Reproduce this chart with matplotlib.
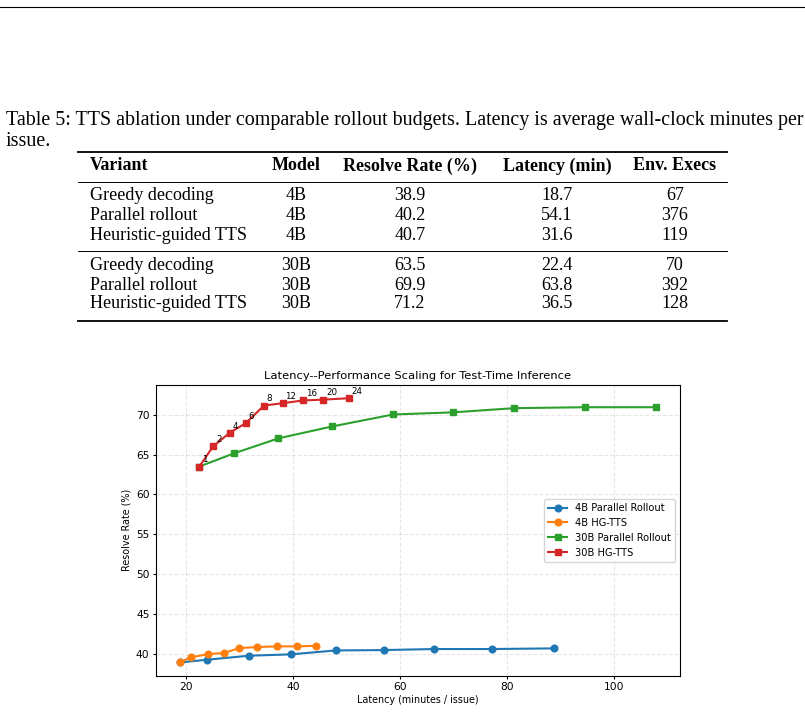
import matplotlib
matplotlib.use("Agg")
import matplotlib.pyplot as plt
from matplotlib.lines import Line2D

W, H = 805, 712

# table data
caption_1 = "Table 5: TTS ablation under comparable rollout budgets. Latency is average wall-clock minutes per"
caption_2 = "issue."
headers = ["Variant", "Model", "Resolve Rate (%)", "Latency (min)", "Env. Execs"]
rows = [
    ["Greedy decoding", "4B", "38.9", "18.7", "67"],
    ["Parallel rollout", "4B", "40.2", "54.1", "376"],
    ["Heuristic-guided TTS", "4B", "40.7", "31.6", "119"],
    ["Greedy decoding", "30B", "63.5", "22.4", "70"],
    ["Parallel rollout", "30B", "69.9", "63.8", "392"],
    ["Heuristic-guided TTS", "30B", "71.2", "36.5", "128"],
]

# chart data
lat_4b_par = [18.7, 23.9, 31.7, 39.5, 47.9, 56.9, 66.4, 77.2, 88.7]
res_4b_par = [38.9, 39.25, 39.75, 39.92, 40.41, 40.46, 40.59, 40.59, 40.67]
lat_4b_hg = [18.7, 20.8, 24.1, 27.0, 29.9, 33.2, 36.9, 40.7, 44.3]
res_4b_hg = [38.9, 39.54, 39.96, 40.09, 40.71, 40.84, 40.92, 40.92, 41.0]
lat_30b_par = [22.4, 28.9, 37.2, 47.3, 58.7, 69.8, 81.3, 94.6, 107.9]
res_30b_par = [63.5, 65.16, 67.04, 68.54, 70.04, 70.3, 70.83, 70.95, 70.95]
lat_30b_hg = [22.4, 25.0, 28.1, 31.1, 34.5, 38.0, 41.8, 45.6, 50.4]
res_30b_hg = [63.5, 66.04, 67.75, 68.95, 71.16, 71.45, 71.8, 71.9, 72.08]
budget_labels = ["1", "2", "4", "6", "8", "12", "16", "20", "24"]


def fx(x):
    return x / W


def fy(y):
    return 1 - y / H


fig = plt.figure(figsize=(W / 100, H / 100), dpi=100)

serif = "Liberation Serif"
fs = 13

# page rule at the top
fig.add_artist(Line2D([0, 1], [fy(7), fy(7)], color="black", lw=0.8))

# caption
fig.text(fx(6), fy(120), caption_1, family=serif, fontsize=14.4, va="center", ha="left")
fig.text(fx(6), fy(142), caption_2, family=serif, fontsize=14.4, va="center", ha="left")

# table rules
x0, x1 = fx(78), fx(727)
fig.add_artist(Line2D([x0, x1], [fy(152), fy(152)], color="black", lw=1.3))
fig.add_artist(Line2D([x0, x1], [fy(182), fy(182)], color="black", lw=0.7))
fig.add_artist(Line2D([x0, x1], [fy(251), fy(251)], color="black", lw=0.7))
fig.add_artist(Line2D([x0, x1], [fy(321), fy(321)], color="black", lw=1.3))

col_x = [90, 296, 410, 557, 675]
col_ha = ["left", "center", "center", "center", "center"]
for c, h in enumerate(headers):
    fig.text(fx(col_x[c]), fy(166), h, family=serif, fontsize=fs, weight="bold",
             ha=col_ha[c], va="center")

row_y = [196, 215.5, 235, 265.5, 285, 304]
for r, row in enumerate(rows):
    for c, val in enumerate(row):
        fig.text(fx(col_x[c]), fy(row_y[r]), val, family=serif, fontsize=fs,
                 ha=col_ha[c], va="center")

# chart
ax = fig.add_axes([fx(155.7), fy(675.7), fx(680) - fx(155.7), (675.7 - 385) / H])

ax.plot(lat_4b_par, res_4b_par, marker="o", ms=4.8, lw=1.5, color="tab:blue", label="4B Parallel Rollout")
ax.plot(lat_4b_hg, res_4b_hg, marker="o", ms=4.8, lw=1.5, color="tab:orange", label="4B HG-TTS")
ax.plot(lat_30b_par, res_30b_par, marker="s", ms=4.8, lw=1.5, color="tab:green", label="30B Parallel Rollout")
ax.plot(lat_30b_hg, res_30b_hg, marker="s", ms=4.8, lw=1.5, color="tab:red", label="30B HG-TTS")

for lx, ly, t in zip(lat_30b_hg, res_30b_hg, budget_labels):
    ax.annotate(t, (lx, ly), xytext=(2, 3), textcoords="offset points", fontsize=6.3)

ax.set_title("Latency--Performance Scaling for Test-Time Inference", fontsize=8.25, pad=4)
ax.set_xlabel("Latency (minutes / issue)", fontsize=6.9, labelpad=2)
ax.set_ylabel("Resolve Rate (%)", fontsize=6.9, labelpad=3)
ax.tick_params(labelsize=7.7, length=2.5, pad=2)
ax.grid(True, linestyle="--", alpha=0.3)
ax.legend(loc="center right", fontsize=7.1)

fig.savefig("out.png", dpi=100)
